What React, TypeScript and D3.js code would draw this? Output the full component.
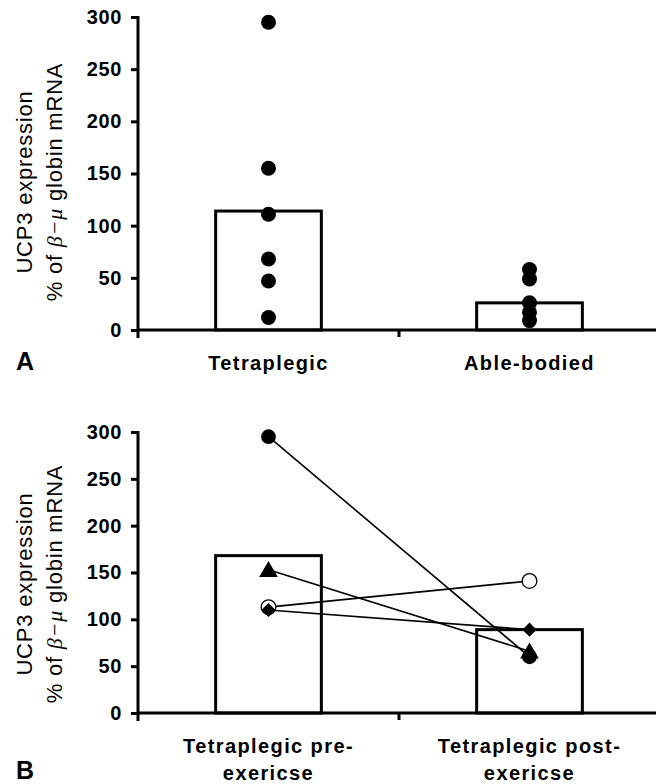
import React, { useRef, useEffect } from 'react';
import * as d3 from 'd3';

// --- data ---
const groupsA = ['Tetraplegic', 'Able-bodied'];
const barsA = [114, 26];
const dotsTetraplegic = [295, 155, 111, 68, 47, 12];
const dotsAbleBodied = [58, 49, 26, 17, 9];

const groupsB = ['pre', 'post'];
const labelsB = [['Tetraplegic pre-', 'exericse'], ['Tetraplegic post-', 'exericse']];
const barsB = [168, 89];
// one subject per entry: [pre, post]
const subjectsB = ['filledCircle', 'triangle', 'openCircle', 'diamond'];
const preB = [295, 153, 113, 110];
const postB = [60, 66, 141, 89];

const yTicks = [0, 50, 100, 150, 200, 250, 300];

const W = 656, H = 784;
const FONT = '"Liberation Sans", Arial, Helvetica, sans-serif';

const App = () => {
    const ref = useRef(null);

    useEffect(() => {
        const svg = d3.select(ref.current);
        svg.selectAll('*').remove();

        // draws the axes, bars and labels of one panel, returns its scales
        const drawPanel = (g, groups, bars, top, bottom, letter, labelLines, titleY) => {
            const left = 138, right = 660;
            const y = d3.scaleLinear().domain([0, 300]).range([bottom, top]);
            const x = d3.scalePoint().domain(groups).range([left, right]).padding(0.5);
            const barW = x.step() * 0.405;

            // bars
            g.selectAll('rect.bar')
                .data(bars)
                .enter()
                .append('rect')
                .attr('x', (d, i) => x(groups[i]) - barW / 2)
                .attr('y', d => y(d))
                .attr('width', barW)
                .attr('height', d => y(0) - y(d))
                .attr('fill', 'white')
                .attr('stroke', '#000')
                .attr('stroke-width', 3);

            // y axis
            const yAxis = g.append('g')
                .attr('transform', `translate(${left},0)`)
                .call(d3.axisLeft(y).tickValues(yTicks).tickSize(7).tickPadding(9));
            yAxis.select('.domain').remove();
            yAxis.append('line')
                .attr('x1', 0).attr('x2', 0)
                .attr('y1', top - 1).attr('y2', bottom + 8)
                .attr('stroke', '#000').attr('stroke-width', 3);
            yAxis.selectAll('.tick line').attr('stroke', '#000').attr('stroke-width', 3);
            yAxis.selectAll('.tick text')
                .attr('fill', '#000')
                .style('font-family', FONT)
                .style('font-weight', 'bold')
                .style('font-size', '20px')
                .style('letter-spacing', '0.6px');

            // x axis with ticks between groups
            g.append('line')
                .attr('x1', left).attr('x2', W)
                .attr('y1', bottom).attr('y2', bottom)
                .attr('stroke', '#000').attr('stroke-width', 3);
            const mid = (x(groups[0]) + x(groups[1])) / 2;
            g.append('line')
                .attr('x1', mid).attr('x2', mid)
                .attr('y1', bottom).attr('y2', bottom + 7)
                .attr('stroke', '#000').attr('stroke-width', 3);

            // category labels
            groups.forEach((grp, i) => {
                const t = g.append('text')
                    .attr('x', x(grp))
                    .attr('y', bottom + 40)
                    .attr('text-anchor', 'middle')
                    .style('font-family', FONT)
                    .style('font-weight', 'bold')
                    .style('font-size', '20px')
                    .style('letter-spacing', '1.4px');
                labelLines[i].forEach((line, j) => {
                    t.append('tspan').attr('x', x(grp)).attr('dy', j === 0 ? 0 : 27).text(line);
                });
            });

            // y axis title, two rotated lines
            g.append('text')
                .attr('transform', `translate(32,${titleY}) rotate(-90)`)
                .attr('text-anchor', 'middle')
                .style('font-family', FONT)
                .style('font-size', '22px')
                .style('letter-spacing', '0.8px')
                .text('UCP3 expression');
            const t2 = g.append('text')
                .attr('transform', `translate(62,${titleY}) rotate(-90)`)
                .attr('text-anchor', 'middle')
                .style('font-family', FONT)
                .style('font-size', '22px')
                .style('letter-spacing', '0.8px');
            t2.append('tspan').text('% of ');
            t2.append('tspan').style('font-family', '"Liberation Serif", serif').style('font-style', 'italic').text('β−μ');
            t2.append('tspan').text(' globin mRNA');

            // panel letter
            g.append('text')
                .attr('x', 16)
                .attr('y', letter.y)
                .style('font-family', FONT)
                .style('font-weight', 'bold')
                .style('font-size', '25px')
                .text(letter.text);

            return { x, y };
        };

        // --- Panel A ---
        const gA = svg.append('g');
        const a = drawPanel(gA, groupsA, barsA, 17, 330, { text: 'A', y: 370 }, groupsA.map(d => [d]), 182);
        const dotsA = [dotsTetraplegic, dotsAbleBodied];
        dotsA.forEach((vals, i) => {
            gA.selectAll(null)
                .data(vals)
                .enter()
                .append('circle')
                .attr('cx', a.x(groupsA[i]))
                .attr('cy', d => a.y(d))
                .attr('r', 7.5)
                .attr('fill', '#000');
        });

        // --- Panel B ---
        const gB = svg.append('g');
        const b = drawPanel(gB, groupsB, barsB, 432, 713, { text: 'B', y: 779 }, labelsB, 584);

        // paired lines
        subjectsB.forEach((s, i) => {
            gB.append('line')
                .attr('x1', b.x('pre')).attr('y1', b.y(preB[i]))
                .attr('x2', b.x('post')).attr('y2', b.y(postB[i]))
                .attr('stroke', '#000')
                .attr('stroke-width', 1.6);
        });

        const markerFor = (s) => {
            if (s === 'triangle') return d3.symbol().type(d3.symbolTriangle).size(150)();
            if (s === 'diamond') return d3.symbol().type(d3.symbolSquare).size(100)();
            return d3.symbol().type(d3.symbolCircle).size(170)();
        };
        subjectsB.forEach((s, i) => {
            [['pre', preB[i]], ['post', postB[i]]].forEach(([grp, v]) => {
                const rot = s === 'diamond' ? ' rotate(45)' : '';
                gB.append('path')
                    .attr('d', markerFor(s))
                    .attr('transform', `translate(${b.x(grp)},${b.y(v) + (s === 'triangle' ? 2 : 0)})${rot}`)
                    .attr('fill', s === 'openCircle' ? 'white' : '#000')
                    .attr('stroke', '#000')
                    .attr('stroke-width', s === 'openCircle' ? 1.3 : 0);
            });
        });
    }, []);

    return (
        <svg ref={ref} width={W} height={H}
            style={{ position: 'absolute', left: 0, top: 0, background: 'white' }} />
    );
};

export default App;
